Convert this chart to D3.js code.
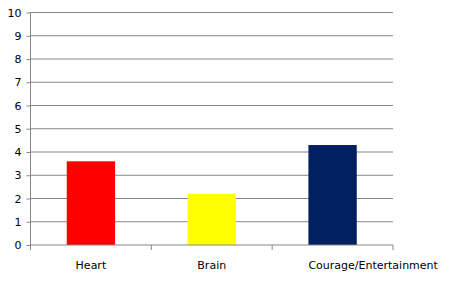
<!DOCTYPE html>
<html>
<head>
<meta charset="utf-8">
<script src="https://cdn.jsdelivr.net/npm/d3@7"></script>
<style>
  body { margin: 0; background: #fff; }
  text { font-family: "DejaVu Sans", sans-serif; font-size: 11px; fill: #000; }
</style>
</head>
<body>
<div id="chart-area"></div>
<script>
var categories = ['Heart', 'Brain', 'Courage/Entertainment'];
var values = [3.6, 2.2, 4.3];
var barColors = ['#ff0000', '#ffff00', '#002060'];
var yTicks = [0, 1, 2, 3, 4, 5, 6, 7, 8, 9, 10];

var margin = { top: 12.5, right: 68, bottom: 46, left: 30.5 },
    width = 461 - margin.left - margin.right,
    height = 291 - margin.top - margin.bottom;

var svg = d3.select('#chart-area')
    .append('svg')
        .attr('width', 461)
        .attr('height', 291);

var g = svg.append('g')
    .attr('transform', 'translate(' + margin.left + ',' + margin.top + ')');

var x = d3.scaleBand()
    .domain(categories)
    .range([0, width])
    .paddingInner(0.6)
    .paddingOuter(0.3);

var xCat = d3.scaleBand()
    .domain(categories)
    .range([0, width]);

var y = d3.scaleLinear()
    .domain([0, 10])
    .range([height, 0]);

// gridlines
g.append('g')
    .selectAll('line')
    .data(yTicks.slice(1))
    .enter().append('line')
        .attr('x1', 0)
        .attr('x2', width)
        .attr('y1', d => y(d))
        .attr('y2', d => y(d))
        .attr('stroke', '#868686')
        .attr('stroke-width', 1);

// y axis
var yAxis = g.append('g')
    .call(d3.axisLeft(y).tickValues(yTicks).tickSize(4).tickPadding(5));
yAxis.selectAll('path, line').attr('stroke', '#868686');
yAxis.select('.domain').attr('d', 'M0,' + height + 'V0');
yAxis.selectAll('text').style('font-size', '11px').style('font-family', '"DejaVu Sans", sans-serif');

// bars
g.selectAll('rect')
    .data(values)
    .enter().append('rect')
        .attr('x', (d, i) => x(categories[i]))
        .attr('y', d => y(d))
        .attr('width', x.bandwidth())
        .attr('height', d => height - y(d))
        .attr('fill', (d, i) => barColors[i]);

// x axis line and boundary ticks
var xAxis = g.append('g')
    .attr('transform', 'translate(0,' + height + ')');
xAxis.append('line')
    .attr('x1', 0).attr('x2', width)
    .attr('stroke', '#868686');
xAxis.selectAll('.bt')
    .data(categories.concat(['end']))
    .enter().append('line')
        .attr('class', 'bt')
        .attr('x1', (d, i) => i * xCat.step())
        .attr('x2', (d, i) => i * xCat.step())
        .attr('y1', 0).attr('y2', 5)
        .attr('stroke', '#868686');

// category labels
xAxis.selectAll('.lbl')
    .data(categories)
    .enter().append('text')
        .attr('class', 'lbl')
        .attr('x', (d, i) => i === categories.length - 1 ? x(d) : x(d) + x.bandwidth() / 2)
        .attr('y', 24)
        .attr('text-anchor', (d, i) => i === categories.length - 1 ? 'start' : 'middle')
        .text(d => d);
</script>
</body>
</html>
